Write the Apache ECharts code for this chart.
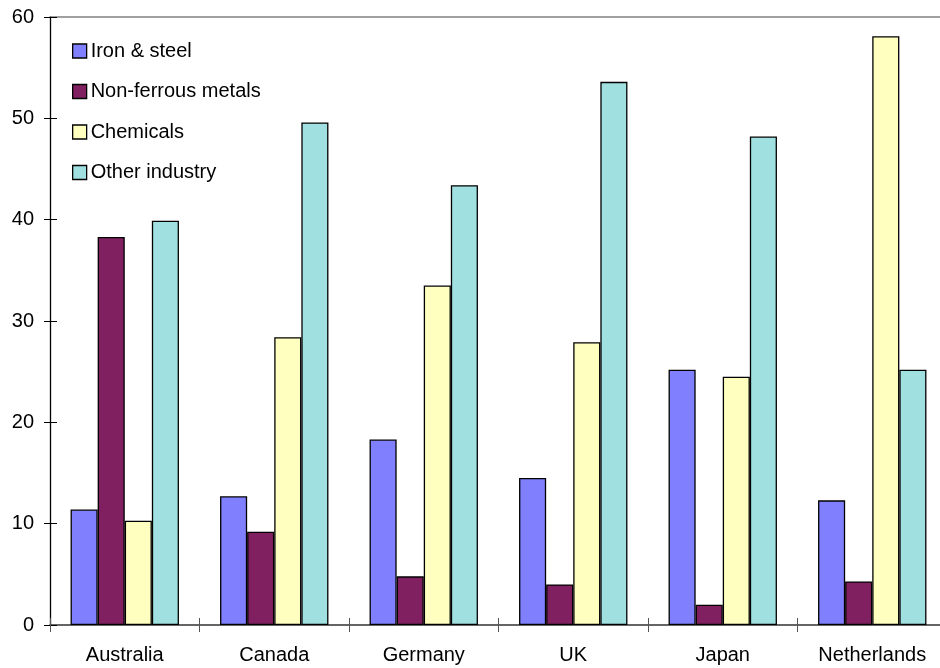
<!DOCTYPE html>
<html><head><meta charset="utf-8">
<script src="https://cdn.jsdelivr.net/npm/echarts@6/dist/echarts.min.js"></script>
<style>html,body{margin:0;padding:0;background:#fff}#c{width:940px;height:668px}</style>
</head><body><div id="c"></div>
<script>
const categories = ['Australia','Canada','Germany','UK','Japan','Netherlands'];
const ironSteel = [11.4, 12.7, 18.3, 14.5, 25.2, 12.3];
const nonFerrous = [38.3, 9.2, 4.8, 4.0, 2.0, 4.3];
const chemicals = [10.3, 28.4, 33.5, 27.9, 24.5, 58.1];
const otherIndustry = [39.9, 49.6, 43.4, 53.6, 48.2, 25.2];
const seriesNames = ['Iron & steel','Non-ferrous metals','Chemicals','Other industry'];
const colors = ['#8080FF','#802060','#FFFFC0','#A0E0E0'];
const yTicks = {min:0, max:60, interval:10};

const font = 'Liberation Sans, Arial, sans-serif';
const chart = echarts.init(document.getElementById('c'), null, {renderer:'canvas'});
const mk = (name, data, i) => ({
  name, type:'bar', data, xAxisIndex:0, yAxisIndex:0,
  barGap:'0%', barCategoryGap:'27.5%',
  itemStyle:{color:colors[i], borderColor:'#000', borderWidth:1.3},
  emphasis:{disabled:true}, animation:false
});
chart.setOption({
  animation:false,
  grid:{left:50, top:17, height:608, width:897, containLabel:false, outerBoundsMode:'none'},
  legend:{
    orient:'vertical', left:67, top:36, itemGap:20.5,
    itemWidth:14, itemHeight:14, icon:'rect',
    textStyle:{fontFamily:font, fontSize:20, lineHeight:20, color:'#000', padding:[0,0,0,-1]},
    itemStyle:{borderColor:'#000', borderWidth:1.3},
    data:seriesNames
  },
  xAxis:[
    {type:'category', data:categories, position:'bottom',
     axisLine:{lineStyle:{color:'#333', width:1.5}},
     axisTick:{show:true, length:7, lineStyle:{color:'#555'}},
     axisLabel:{fontFamily:font, fontSize:20, color:'#000', margin:20}},
    {type:'category', data:categories, position:'bottom',
     axisLine:{show:false},
     axisTick:{show:true, inside:true, length:7, lineStyle:{color:'#555'}},
     axisLabel:{show:false}},
    {type:'category', data:categories, position:'top',
     axisLine:{show:true, lineStyle:{color:'#808080', width:1.5}},
     axisTick:{show:false}, axisLabel:{show:false}}
  ],
  yAxis:[
    {type:'value', min:yTicks.min, max:yTicks.max, interval:yTicks.interval,
     axisLine:{show:true, lineStyle:{color:'#000', width:1.3}},
     axisTick:{show:true, length:6, lineStyle:{color:'#000'}},
     splitLine:{show:false},
     axisLabel:{fontFamily:font, fontSize:20, color:'#000', margin:16}},
    {type:'value', min:yTicks.min, max:yTicks.max, interval:yTicks.interval, position:'left',
     axisLine:{show:false},
     axisTick:{show:true, inside:true, length:7, lineStyle:{color:'#000'}},
     splitLine:{show:false}, axisLabel:{show:false}}
  ],
  series:[
    mk(seriesNames[0], ironSteel, 0),
    mk(seriesNames[1], nonFerrous, 1),
    mk(seriesNames[2], chemicals, 2),
    mk(seriesNames[3], otherIndustry, 3)
  ]
});
</script></body></html>
